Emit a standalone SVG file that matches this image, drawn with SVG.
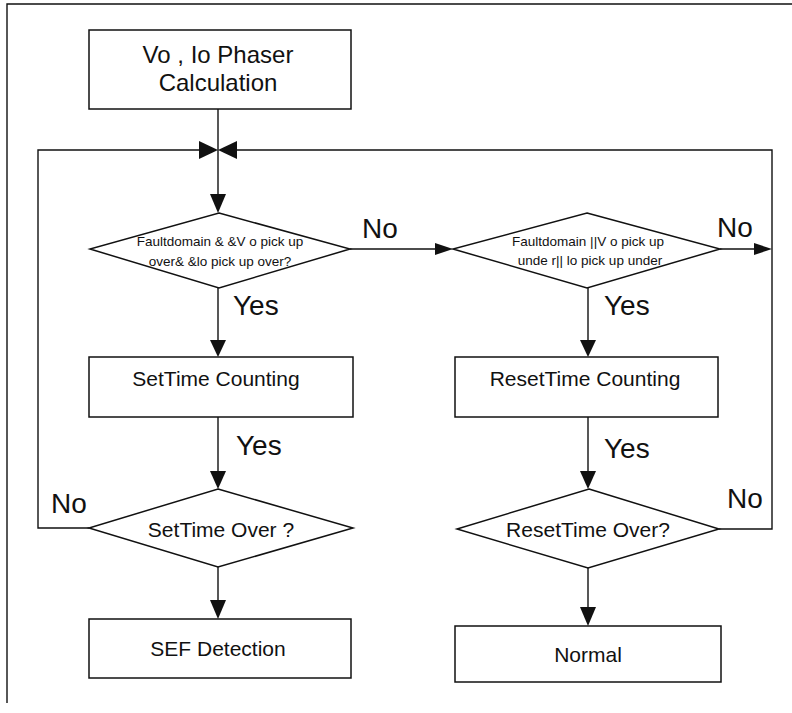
<svg xmlns="http://www.w3.org/2000/svg" width="792" height="713" viewBox="0 0 792 713">
<style>
.shape{fill:#ffffff;stroke:#111;stroke-width:1.5}
.line{fill:none;stroke:#111;stroke-width:1.4}
.head{fill:#111;stroke:none}
text{font-family:"Liberation Sans",Arial,sans-serif;fill:#111}
.big{font-size:24px}
.mid{font-size:21px}
.lbl{font-size:28px}
.small{font-size:13.5px}
</style>
<rect x="0" y="0" width="792" height="713" fill="#ffffff"/>
<path class="line" d="M7,703 V4 H792" stroke="#555" stroke-width="1"/>
<g id="connectors">
  <path class="line" d="M218,109 V200"/>
  <polygon class="head" points="218,213 210,194 226,194"/>
  <path class="line" d="M89,528 H38 V150 H200"/>
  <polygon class="head" points="218,150 199,141 199,159"/>
  <path class="line" d="M719,529 H772 V150 H236"/>
  <polygon class="head" points="218,150 237,141 237,159"/>
  <path class="line" d="M350,249 H438"/>
  <polygon class="head" points="453,249 435,243 435,255"/>
  <path class="line" d="M720,249 H756"/>
  <polygon class="head" points="772,249 754,243 754,255"/>
  <path class="line" d="M218,288 V342"/>
  <polygon class="head" points="218,357 210,340 226,340"/>
  <path class="line" d="M588,288 V342"/>
  <polygon class="head" points="588,357 580,340 596,340"/>
  <path class="line" d="M218,417 V473"/>
  <polygon class="head" points="218,489 210,471 226,471"/>
  <path class="line" d="M588,417 V473"/>
  <polygon class="head" points="588,489 580,471 596,471"/>
  <path class="line" d="M218,567 V602"/>
  <polygon class="head" points="218,619 210,600 226,600"/>
  <path class="line" d="M588,568 V609"/>
  <polygon class="head" points="588,626 580,607 596,607"/>
  <text class="lbl" x="362" y="238">No</text>
  <text class="lbl" x="717" y="237">No</text>
  <text class="lbl" x="233" y="315">Yes</text>
  <text class="lbl" x="604" y="315">Yes</text>
  <text class="lbl" x="236" y="455">Yes</text>
  <text class="lbl" x="604" y="458">Yes</text>
  <text class="lbl" x="51" y="513">No</text>
  <text class="lbl" x="727" y="508">No</text>
</g>
<g id="phaser">
  <rect class="shape" x="89" y="30" width="262" height="79"/>
  <text class="big" x="218" y="63" text-anchor="middle">Vo , Io Phaser</text>
  <text class="big" x="218" y="91" text-anchor="middle">Calculation</text>
</g>
<g id="cond1">
  <polygon class="shape" points="219,213 350,249 219,288 90,249"/>
  <text class="small" x="220" y="246" text-anchor="middle">Faultdomain &amp; &amp;V o pick up</text>
  <text class="small" x="220" y="266" text-anchor="middle">over&amp; &amp;lo pick up over?</text>
</g>
<g id="cond2">
  <polygon class="shape" points="587,213 720,249 587,288 453,249"/>
  <text class="small" x="588" y="246" text-anchor="middle">Faultdomain  ||V o pick up</text>
  <text class="small" x="590" y="265" text-anchor="middle">unde r|| lo pick up under</text>
</g>
<g id="setcount">
  <rect class="shape" x="89" y="357" width="264" height="60"/>
  <text class="mid" x="216" y="386" text-anchor="middle">SetTime Counting</text>
</g>
<g id="resetcount">
  <rect class="shape" x="455" y="357" width="263" height="60"/>
  <text class="mid" x="585" y="386" text-anchor="middle">ResetTime Counting</text>
</g>
<g id="setover">
  <polygon class="shape" points="218,489 353,528 218,567 89,528"/>
  <text class="mid" x="221" y="537" text-anchor="middle">SetTime Over ?</text>
</g>
<g id="resetover">
  <polygon class="shape" points="589,489 719,529 588,568 457,529"/>
  <text class="mid" x="588" y="537" text-anchor="middle">ResetTime Over?</text>
</g>
<g id="sef">
  <rect class="shape" x="89" y="619" width="262" height="59"/>
  <text class="mid" x="218" y="656" text-anchor="middle">SEF Detection</text>
</g>
<g id="normal">
  <rect class="shape" x="455" y="626" width="266" height="56"/>
  <text class="mid" x="588" y="662" text-anchor="middle">Normal</text>
</g>
</svg>
